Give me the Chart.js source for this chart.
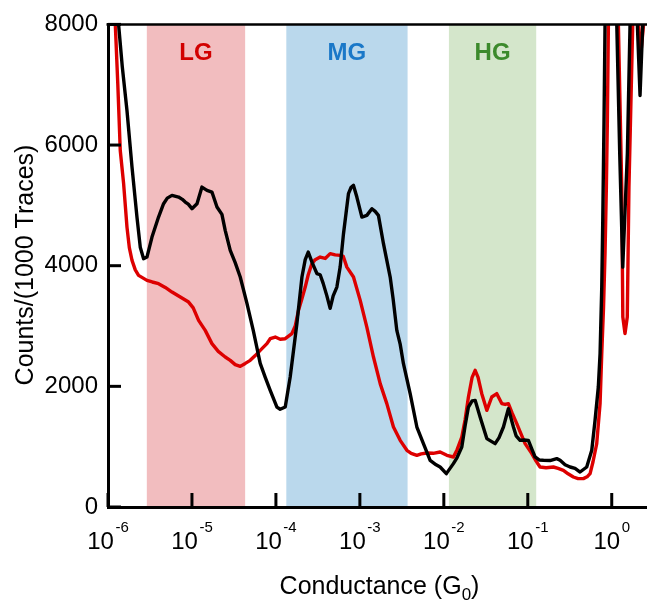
<!DOCTYPE html>
<html>
<head>
<meta charset="utf-8">
<script src="https://cdn.jsdelivr.net/npm/chart.js@4/dist/chart.umd.min.js"></script>
<style>
  html, body { margin: 0; padding: 0; background: #fff; }
  canvas { display: block; }
</style>
</head>
<body>
<canvas id="chart" width="647" height="603"></canvas>
<script>
// Conductance histograms: log10(G/G0) positions and counts per 1000 traces
const blackLogG = [-5.925,-5.874,-5.830,-5.774,-5.714,-5.655,-5.615,-5.576,-5.536,-5.476,
  -5.398,-5.338,-5.294,-5.238,-5.160,-5.115,-5.080,-5.044,-5.000,-4.940,
  -4.881,-4.821,-4.762,-4.702,-4.643,-4.604,-4.544,-4.485,-4.425,-4.345,
  -4.270,-4.187,-4.127,-4.068,-3.988,-3.949,-3.889,-3.830,-3.750,-3.690,
  -3.651,-3.615,-3.568,-3.512,-3.473,-3.437,-3.393,-3.354,-3.318,-3.274,
  -3.235,-3.195,-3.136,-3.104,-3.076,-3.036,-2.976,-2.917,-2.857,-2.818,
  -2.779,-2.719,-2.639,-2.604,-2.560,-2.520,-2.481,-2.401,-2.321,-2.243,
  -2.163,-2.092,-2.044,-1.970,-1.886,-1.842,-1.786,-1.746,-1.707,-1.663,
  -1.627,-1.568,-1.488,-1.449,-1.389,-1.342,-1.290,-1.231,-1.171,-1.139,
  -1.092,-1.044,-0.993,-0.949,-0.913,-0.865,-0.814,-0.735,-0.655,-0.615,
  -0.556,-0.496,-0.437,-0.377,-0.298,-0.238,-0.199,-0.160,-0.139,-0.119,
  -0.107,-0.092,-0.080,-0.008,0.060,0.095,0.131,0.186,0.218,0.265,
  0.305,0.337,0.369,0.432];
const blackCounts = [8700,8000,7300,6573,5635,4806,4300,4117,4143,4475,
  4806,5028,5120,5166,5138,5100,5055,5020,4945,5028,
  5303,5249,5221,4972,4850,4586,4254,4050,3812,3375,
  2928,2380,2150,1934,1657,1620,1657,2154,3043,3812,
  4100,4226,4050,3870,3850,3707,3500,3293,3500,3646,
  3977,4531,5194,5300,5331,5138,4806,4834,4945,4900,
  4834,4365,3812,3450,2928,2700,2376,1879,1326,1050,
  774,700,663,553,719,820,994,1350,1657,1760,
  1768,1492,1134,1100,1050,1150,1326,1630,1326,1180,
  1105,1110,1105,950,829,780,774,770,802,774,
  700,663,640,580,663,940,1437,1989,2542,3646,
  4751,6409,8000,12000,8000,5860,3977,5860,8000,11000,
  8000,6821,8000,11000];

const redLogG = [-5.961,-5.913,-5.883,-5.854,-5.814,-5.774,-5.746,-5.714,-5.675,-5.636,
  -5.536,-5.473,-5.398,-5.318,-5.238,-5.139,-5.040,-4.985,-4.921,-4.842,
  -4.762,-4.687,-4.604,-4.544,-4.485,-4.425,-4.365,-4.306,-4.246,-4.187,
  -4.107,-4.068,-4.008,-3.949,-3.889,-3.810,-3.770,-3.731,-3.690,-3.651,
  -3.615,-3.571,-3.532,-3.473,-3.413,-3.354,-3.294,-3.235,-3.199,-3.155,
  -3.076,-2.996,-2.917,-2.838,-2.758,-2.679,-2.600,-2.520,-2.440,-2.389,
  -2.321,-2.270,-2.202,-2.127,-2.044,-1.964,-1.886,-1.842,-1.786,-1.746,
  -1.707,-1.663,-1.627,-1.592,-1.548,-1.488,-1.429,-1.369,-1.310,-1.270,
  -1.231,-1.187,-1.131,-1.092,-1.032,-0.952,-0.901,-0.854,-0.782,-0.695,
  -0.639,-0.576,-0.520,-0.457,-0.401,-0.338,-0.294,-0.258,-0.223,-0.179,
  -0.139,-0.119,-0.098,-0.080,-0.064,-0.052,-0.040,0.015,0.079,0.119,
  0.132,0.158,0.185,0.205,0.250,0.289,0.319,0.349,0.379,0.432];
const redCounts = [9000,8000,7000,5910,5360,4640,4300,4089,3930,3840,
  3757,3730,3702,3640,3563,3480,3397,3300,3094,2928,
  2708,2580,2486,2431,2360,2331,2380,2431,2510,2597,
  2708,2790,2817,2780,2790,2873,3000,3260,3450,3646,
  3850,4034,4100,4143,4120,4200,4180,4171,4160,3977,
  3812,3425,2983,2486,2045,1714,1326,1105,940,890,
  857,880,895,890,912,857,829,950,1160,1450,
  1823,2150,2266,2150,1879,1603,1823,1879,1714,1700,
  1714,1560,1382,1250,1050,885,760,663,650,663,
  640,608,550,497,470,470,500,553,750,1050,
  1714,2542,3300,4200,5300,6409,8000,11500,8000,5303,
  3150,2874,3150,5303,8000,10000,8000,7550,8000,10000];

// Conductance windows (G0)
const regionNames = ['LG', 'MG', 'HG'];
const regionFrom = [2.9e-6, 1.33e-4, 1.15e-2];
const regionTo = [4.3e-5, 3.7e-3, 0.126];

// Axis ticks
const decadeExponents = [-6, -5, -4, -3, -2, -1, 0];
const countTicks = [0, 2000, 4000, 6000, 8000];

// Styles
const FONT = '"Liberation Sans", Arial, Helvetica, sans-serif';
const regionFill = ['#F2BDBF', '#BAD8EC', '#D4E6CB'];
const regionInk = ['#D20000', '#1A78C8', '#3C8A2C'];

const toPoints = (lg, counts) => lg.map((v, i) => ({ x: Math.pow(10, v), y: counts[i] }));

const bandsPlugin = {
  id: 'bands',
  beforeDraw(chart) {
    const { ctx, chartArea: a, scales: { x } } = chart;
    ctx.save();
    regionNames.forEach((name, i) => {
      const x0 = x.getPixelForValue(regionFrom[i]);
      const x1 = x.getPixelForValue(regionTo[i]);
      ctx.fillStyle = regionFill[i];
      ctx.fillRect(x0, a.top, x1 - x0, a.bottom - a.top);
    });
    ctx.restore();
  },
  afterDraw(chart) {
    const { ctx, chartArea: a, scales: { x, y } } = chart;
    ctx.save();
    ctx.strokeStyle = '#000';
    ctx.lineCap = 'butt';

    // frame top edge
    ctx.lineWidth = 2.5;
    ctx.beginPath();
    ctx.moveTo(a.left - 1.5, a.top);
    ctx.lineTo(a.right, a.top);
    ctx.stroke();

    // inward tick marks
    ctx.lineWidth = 3;
    countTicks.forEach(v => {
      const py = y.getPixelForValue(v);
      ctx.beginPath();
      ctx.moveTo(a.left, py);
      ctx.lineTo(a.left + 13, py);
      ctx.stroke();
    });
    decadeExponents.forEach(e => {
      const px = x.getPixelForValue(Math.pow(10, e));
      ctx.beginPath();
      ctx.moveTo(px, a.bottom);
      ctx.lineTo(px, a.bottom - 14);
      ctx.stroke();
    });

    // decade labels 10^n
    ctx.fillStyle = '#000';
    ctx.textAlign = 'left';
    ctx.textBaseline = 'alphabetic';
    decadeExponents.forEach(e => {
      const px = x.getPixelForValue(Math.pow(10, e));
      const exp = String(e);
      ctx.font = `24px ${FONT}`;
      const wb = ctx.measureText('10').width;
      ctx.font = `15px ${FONT}`;
      const we = ctx.measureText(exp).width;
      const x0 = px - (wb + 1.5 + we) / 2;
      ctx.font = `24px ${FONT}`;
      ctx.fillText('10', x0, 548.5);
      ctx.font = `15px ${FONT}`;
      ctx.fillText(exp, x0 + wb + 1.5, 532);
    });

    // x title with subscript
    const parts = [['Conductance (G', 25, 0], ['0', 17, 6], [')', 25, 0]];
    let total = 0;
    parts.forEach(p => { ctx.font = `${p[1]}px ${FONT}`; total += ctx.measureText(p[0]).width; });
    let cx = (a.left + a.right) / 2 + 2 - total / 2;
    parts.forEach(p => {
      ctx.font = `${p[1]}px ${FONT}`;
      ctx.fillText(p[0], cx, 594 + p[2]);
      cx += ctx.measureText(p[0]).width;
    });

    // y title
    ctx.save();
    ctx.translate(33, 265);
    ctx.rotate(-Math.PI / 2);
    ctx.textAlign = 'center';
    ctx.font = `25px ${FONT}`;
    ctx.fillText('Counts/(1000 Traces)', 0, 0);
    ctx.restore();

    // window labels
    ctx.textAlign = 'center';
    ctx.font = `bold 24px ${FONT}`;
    regionNames.forEach((name, i) => {
      const x0 = x.getPixelForValue(regionFrom[i]);
      const x1 = x.getPixelForValue(regionTo[i]);
      ctx.fillStyle = regionInk[i];
      ctx.fillText(name, (x0 + x1) / 2, 60);
    });
    ctx.restore();
  }
};

new Chart(document.getElementById('chart'), {
  type: 'line',
  data: {
    datasets: [
      { label: 'black', data: toPoints(blackLogG, blackCounts), borderColor: '#000000',
        borderWidth: 3.4, pointRadius: 0, tension: 0, fill: false,
        borderJoinStyle: 'round', borderCapStyle: 'round' },
      { label: 'red', data: toPoints(redLogG, redCounts), borderColor: '#DD0000',
        borderWidth: 3.4, pointRadius: 0, tension: 0, fill: false,
        borderJoinStyle: 'round', borderCapStyle: 'round' }
    ]
  },
  options: {
    responsive: false,
    animation: false,
    devicePixelRatio: 1,
    layout: { padding: { top: 24, left: 0, right: 0, bottom: 0 } },
    plugins: { legend: { display: false }, tooltip: { enabled: false } },
    scales: {
      x: {
        type: 'logarithmic',
        min: 1e-6,
        max: 2.63,
        grid: { display: false, drawTicks: false },
        border: { display: true, color: '#000', width: 3 },
        ticks: { display: false },
        afterBuildTicks: s => { s.ticks = decadeExponents.map(e => ({ value: Math.pow(10, e) })); },
        afterFit: s => { s.height = 96; }
      },
      y: {
        type: 'linear',
        min: 0,
        max: 8000,
        grid: { display: false, drawTicks: false },
        border: { display: true, color: '#000', width: 3 },
        afterBuildTicks: s => { s.ticks = countTicks.map(v => ({ value: v })); },
        ticks: {
          color: '#000',
          padding: 10,
          font: { family: FONT, size: 24 },
          callback: v => String(v)
        },
        afterFit: s => { s.width = 108; }
      }
    }
  },
  plugins: [bandsPlugin]
});
</script>
</body>
</html>
